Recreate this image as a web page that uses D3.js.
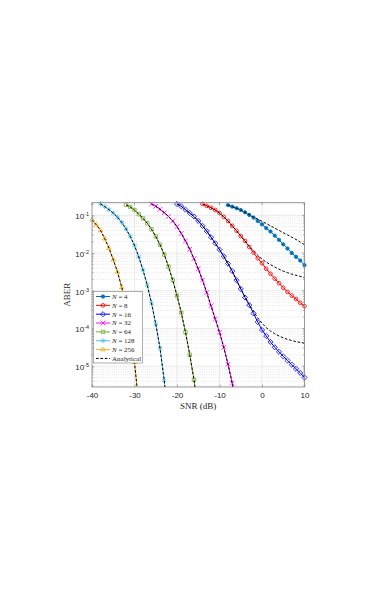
<!DOCTYPE html>
<meta charset="utf-8">
<style>
body { margin: 0; background: #fff; }
svg { display: block; }
.tick text { font: 8px "Liberation Sans", Arial, sans-serif; fill: #262626; }
.lab { font-family: "Liberation Serif", "Times New Roman", serif; fill: #262626; }
</style>
<body>
<script src="https://d3js.org/d3.v7.min.js"></script>
<script>

var width = 387,
    height = 599;

// plot box in page pixels
var boxL = 92, boxR = 304.5, boxT = 202.7, boxB = 387;

/*
  Data: SNR (dB) and log10(ABER)
*/

var snrN4   = [-8,-7,-6,-5,-4,-3,-2,-1,0,1,2,3,4,5,6,7,8,9,10];
var expN4   = [-0.73,-0.77,-0.81,-0.86,-0.92,-0.99,-1.06,-1.15,-1.24,-1.34,-1.43,-1.54,-1.65,-1.77,-1.88,-2.00,-2.10,-2.20,-2.32];
var anaExpN4 = [-0.73,-0.77,-0.81,-0.86,-0.92,-0.98,-1.04,-1.10,-1.16,-1.22,-1.28,-1.34,-1.40,-1.46,-1.52,-1.58,-1.64,-1.71,-1.78];

var snrN8   = [-14,-13,-12,-11,-10,-9,-8,-7,-6,-5,-4,-3,-2,-1,0,1,2,3,4,5,6,7,8,9,10];
var expN8   = [-0.70,-0.75,-0.80,-0.86,-0.94,-1.04,-1.15,-1.28,-1.41,-1.55,-1.68,-1.84,-1.99,-2.14,-2.27,-2.42,-2.55,-2.68,-2.80,-2.92,-3.03,-3.13,-3.22,-3.32,-3.41];
var anaExpN8 = [-0.70,-0.75,-0.80,-0.86,-0.94,-1.04,-1.15,-1.28,-1.41,-1.55,-1.68,-1.82,-1.95,-2.06,-2.16,-2.24,-2.31,-2.37,-2.43,-2.48,-2.52,-2.56,-2.59,-2.62,-2.65];

var snrN16  = [-20,-19,-18,-17,-16,-15,-14,-13,-12,-11,-10,-9,-8,-7,-6,-5,-4,-3,-2,-1,0,1,2,3,4,5,6,7,8,9,10];
var expN16  = [-0.70,-0.76,-0.85,-0.94,-1.03,-1.15,-1.28,-1.42,-1.58,-1.74,-1.91,-2.09,-2.28,-2.48,-2.72,-2.95,-3.18,-3.38,-3.60,-3.83,-4.04,-4.20,-4.36,-4.50,-4.62,-4.74,-4.85,-4.96,-5.07,-5.18,-5.30];
var anaExpN16 = [-0.70,-0.76,-0.85,-0.94,-1.03,-1.15,-1.28,-1.42,-1.58,-1.74,-1.91,-2.09,-2.28,-2.48,-2.72,-2.95,-3.16,-3.36,-3.55,-3.72,-3.86,-3.98,-4.07,-4.14,-4.20,-4.25,-4.29,-4.32,-4.35,-4.37,-4.39];

var snrN32  = [-26,-25,-24,-23,-22,-21,-20,-19,-18,-17,-16,-15,-14,-13,-12,-11,-10,-9,-8,-7,-6];
var expN32  = [-0.70,-0.76,-0.84,-0.93,-1.03,-1.15,-1.30,-1.48,-1.68,-1.90,-2.15,-2.42,-2.72,-3.05,-3.40,-3.75,-4.10,-4.50,-4.95,-5.45,-6.10];

var snrN64  = [-32,-31,-30,-29,-28,-27,-26,-25,-24,-23,-22,-21,-20,-19,-18,-17,-16,-15];
var expN64  = [-0.72,-0.78,-0.86,-0.97,-1.08,-1.21,-1.37,-1.56,-1.78,-2.04,-2.36,-2.72,-3.13,-3.58,-4.10,-4.70,-5.36,-6.20];

var snrN128 = [-38,-37,-36,-35,-34,-33,-32,-31,-30,-29,-28,-27,-26,-25,-24,-23,-22];
var expN128 = [-0.70,-0.77,-0.85,-0.94,-1.05,-1.19,-1.36,-1.56,-1.80,-2.10,-2.45,-2.85,-3.33,-3.88,-4.52,-5.38,-6.50];

var snrN256 = [-40,-39,-38,-37,-36,-35,-34,-33,-32,-31,-30,-29];
var expN256 = [-1.12,-1.25,-1.40,-1.62,-1.87,-2.18,-2.50,-2.91,-3.42,-4.05,-4.90,-6.00];

// analytical curves coincide with the simulation for the larger arrays
var anaExpN32 = expN32, anaExpN64 = expN64, anaExpN128 = expN128, anaExpN256 = expN256;

var xTicks = [-40, -30, -20, -10, 0, 10];
var yTickExps = [-1, -2, -3, -4, -5];

/*
  Series table
*/

var series = [
  { n: "4",   snr: snrN4,   sim: expN4,   ana: anaExpN4,   color: "#0072BD", sym: d3.symbolCircle,   size: 9,  fill: true },
  { n: "8",   snr: snrN8,   sim: expN8,   ana: anaExpN8,   color: "#FF0000", sym: d3.symbolCircle,   size: 11 },
  { n: "16",  snr: snrN16,  sim: expN16,  ana: anaExpN16,  color: "#0000FF", sym: d3.symbolDiamond2, size: 17 },
  { n: "32",  snr: snrN32,  sim: expN32,  ana: anaExpN32,  color: "#FF00FF", sym: d3.symbolTimes,    size: 16 },
  { n: "64",  snr: snrN64,  sim: expN64,  ana: anaExpN64,  color: "#77AC30", sym: d3.symbolSquare2,  size: 15 },
  { n: "128", snr: snrN128, sim: expN128, ana: anaExpN128, color: "#4DBEEE", sym: d3.symbolAsterisk, size: 20 },
  { n: "256", snr: snrN256, sim: expN256, ana: anaExpN256, color: "#EDB120", sym: d3.symbolTriangle2, size: 15 }
];

function pts(snr, ex) {
  return snr.map(function(s, i) { return [s, Math.pow(10, ex[i])]; });
}

var x = d3.scaleLinear().domain([-40, 10]).range([boxL, boxR]);
var y = d3.scaleLog().domain([2.8e-6, 0.216]).range([boxB, boxT]);
var yMin = y.domain()[0], yMax = y.domain()[1];

var svg = d3.select("body").append("svg")
    .attr("width", width)
    .attr("height", height);

svg.append("defs").append("clipPath").attr("id", "plotclip")
  .append("rect")
    .attr("x", boxL).attr("y", boxT)
    .attr("width", boxR - boxL).attr("height", boxB - boxT);

/*
  Grid
*/

var minorVals = [];
for (var e = -6; e <= -1; e++) {
  for (var k = 2; k <= 9; k++) {
    var v = k * Math.pow(10, e);
    if (v > yMin && v < yMax) minorVals.push(v);
  }
}
var majorVals = yTickExps.map(function(p) { return Math.pow(10, p); });

var grid = svg.append("g");

grid.selectAll(".minor").data(minorVals).enter().append("line")
    .attr("x1", boxL).attr("x2", boxR)
    .attr("y1", function(d) { return y(d); }).attr("y2", function(d) { return y(d); })
    .attr("stroke", "#cfcfcf").attr("stroke-width", 0.5)
    .attr("stroke-dasharray", "1,1.2");

grid.selectAll(".hmajor").data(majorVals).enter().append("line")
    .attr("x1", boxL).attr("x2", boxR)
    .attr("y1", function(d) { return y(d); }).attr("y2", function(d) { return y(d); })
    .attr("stroke", "#dcdcdc").attr("stroke-width", 0.6);

grid.selectAll(".vmajor").data(xTicks.slice(1, -1)).enter().append("line")
    .attr("y1", boxT).attr("y2", boxB)
    .attr("x1", function(d) { return x(d); }).attr("x2", function(d) { return x(d); })
    .attr("stroke", "#dcdcdc").attr("stroke-width", 0.6);

/*
  Curves
*/

var line = d3.line()
    .x(function(d) { return x(d[0]); })
    .y(function(d) { return y(d[1]); });

var plot = svg.append("g").attr("clip-path", "url(#plotclip)");

series.forEach(function(s) {
  var data = pts(s.snr, s.sim);
  plot.append("path")
      .attr("d", line(data))
      .attr("fill", "none")
      .attr("stroke", s.color)
      .attr("stroke-width", 1);
});

var markers = svg.append("g");
series.forEach(function(s) {
  var data = pts(s.snr, s.sim).filter(function(d) { return d[1] >= yMin && d[1] <= yMax; });
  markers.selectAll(null).data(data).enter().append("path")
      .attr("transform", function(d) { return "translate(" + x(d[0]) + "," + y(d[1]) + ")"; })
      .attr("d", d3.symbol().type(s.sym).size(s.size))
      .attr("fill", s.fill ? s.color : "none")
      .attr("stroke", s.color)
      .attr("stroke-width", 0.8);
});

var anaLayer = svg.append("g").attr("clip-path", "url(#plotclip)");
series.forEach(function(s) {
  anaLayer.append("path")
      .attr("d", line(pts(s.snr, s.ana)))
      .attr("fill", "none")
      .attr("stroke", "#000")
      .attr("stroke-width", 1)
      .attr("stroke-dasharray", "2.6,1.8");
});

/*
  Axes
*/

var xAxis = d3.axisBottom(x)
    .tickValues(xTicks)
    .tickFormat(function(d) { return String(d); })
    .tickSizeInner(-2.5)
    .tickSizeOuter(0)
    .tickPadding(5);

var gx = svg.append("g")
    .attr("transform", "translate(0," + boxB + ")")
    .call(xAxis);
gx.select(".domain").remove();
gx.selectAll(".tick line").attr("stroke", "#7a7a7a").attr("stroke-width", 0.6);

var yAxis = d3.axisLeft(y)
    .tickValues(majorVals)
    .tickFormat("")
    .tickSizeInner(-2.5)
    .tickSizeOuter(0)
    .tickPadding(3);

var gy = svg.append("g")
    .attr("transform", "translate(" + boxL + ",0)")
    .call(yAxis);
gy.select(".domain").remove();
gy.selectAll(".tick line").attr("stroke", "#7a7a7a").attr("stroke-width", 0.6);
gy.selectAll(".tick text")
    .attr("x", -3)
    .attr("dy", "0.42em")
    .each(function(d) {
      var t = d3.select(this);
      t.append("tspan").text("10");
      t.append("tspan")
          .attr("dy", "-0.55em")
          .style("font-size", "5.5px")
          .text(String(Math.round(Math.log10(d))));
    });

// ticks on the other sides, and minor ticks on the log axis
var tk = svg.append("g").attr("stroke", "#7a7a7a").attr("stroke-width", 0.6);
tk.selectAll(".tt").data(xTicks).enter().append("line")
    .attr("x1", function(d) { return x(d); }).attr("x2", function(d) { return x(d); })
    .attr("y1", boxT).attr("y2", boxT + 2.5);
tk.selectAll(".rt").data(majorVals).enter().append("line")
    .attr("x1", boxR).attr("x2", boxR - 2.5)
    .attr("y1", function(d) { return y(d); }).attr("y2", function(d) { return y(d); });
tk.selectAll(".lm").data(minorVals).enter().append("line")
    .attr("x1", boxL).attr("x2", boxL + 1.4)
    .attr("y1", function(d) { return y(d); }).attr("y2", function(d) { return y(d); });
tk.selectAll(".rm").data(minorVals).enter().append("line")
    .attr("x1", boxR).attr("x2", boxR - 1.4)
    .attr("y1", function(d) { return y(d); }).attr("y2", function(d) { return y(d); });

svg.append("rect")
    .attr("x", boxL).attr("y", boxT)
    .attr("width", boxR - boxL).attr("height", boxB - boxT)
    .attr("fill", "none")
    .attr("stroke", "#7a7a7a")
    .attr("stroke-width", 0.75);

svg.append("text")
    .attr("class", "lab")
    .attr("x", (boxL + boxR) / 2)
    .attr("y", 409)
    .attr("text-anchor", "middle")
    .style("font-size", "9px")
    .text("SNR (dB)");

svg.append("text")
    .attr("class", "lab")
    .attr("transform", "translate(70," + (boxT + boxB) / 2 + ") rotate(-90)")
    .attr("text-anchor", "middle")
    .style("font-size", "9px")
    .text("ABER");

/*
  Legend
*/

var lgX = 93.5, lgY = 291.5, rowH = 8.85;
var legend = svg.append("g");

legend.append("rect")
    .attr("x", lgX).attr("y", lgY)
    .attr("width", 49).attr("height", 71.5)
    .attr("fill", "#fff")
    .attr("stroke", "#7a7a7a")
    .attr("stroke-width", 0.6);

var entries = series.concat([{ analytic: true }]);

entries.forEach(function(s, i) {
  var cy = lgY + 5 + i * rowH;
  var row = legend.append("g");
  row.append("line")
      .attr("x1", lgX + 2.5).attr("x2", lgX + 16.5)
      .attr("y1", cy).attr("y2", cy)
      .attr("stroke", s.analytic ? "#000" : s.color)
      .attr("stroke-width", 1)
      .attr("stroke-dasharray", s.analytic ? "2.6,1.8" : null);
  if (!s.analytic) {
    row.append("path")
        .attr("transform", "translate(" + (lgX + 9.5) + "," + cy + ")")
        .attr("d", d3.symbol().type(s.sym).size(s.size))
        .attr("fill", s.fill ? s.color : "none")
        .attr("stroke", s.color)
        .attr("stroke-width", 0.8);
  }
  var t = row.append("text")
      .attr("class", "lab")
      .attr("x", lgX + 18.5)
      .attr("y", cy)
      .attr("dy", "0.33em")
      .style("font-size", "7px");
  if (s.analytic) {
    t.text("Analytical");
  } else {
    t.append("tspan").style("font-style", "italic").text("N");
    t.append("tspan").text(" = " + s.n);
  }
});

</script>
